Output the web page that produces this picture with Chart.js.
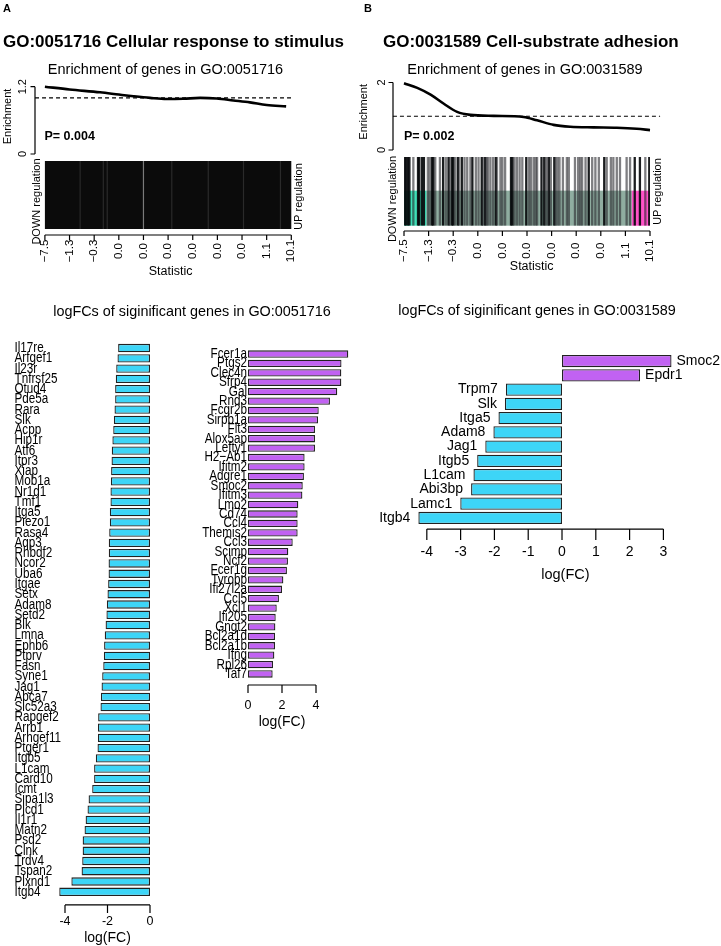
<!DOCTYPE html>
<html>
<head>
<meta charset="utf-8">
<script src="https://cdn.jsdelivr.net/npm/chart.js@4.4.1/dist/chart.umd.min.js"></script>
<style>
  body { margin: 0; background: #fff; }
  #page { position: relative; width: 721px; height: 946px; overflow: hidden; }
  #page canvas { position: absolute; left: 0; top: 0; }
</style>
</head>
<body>
<div id="page">
  <canvas id="enrichA" width="721" height="946"></canvas>
  <canvas id="barcodeA" width="721" height="946"></canvas>
  <canvas id="enrichB" width="721" height="946"></canvas>
  <canvas id="barcodeB" width="721" height="946"></canvas>
  <canvas id="downA" width="721" height="946"></canvas>
  <canvas id="upA" width="721" height="946"></canvas>
  <canvas id="barsB" width="721" height="946"></canvas>
</div>
<script>
// ---- data ----
// barcode axis labels (statistic quantiles)
const statLabels = ['\u22127.5', '\u22121.3', '\u22120.3', '0.0', '0.0', '0.0', '0.0', '0.0', '0.0', '1.1', '10.1'];

// enrichment curves (x = position along barcode, 0..10)
const enrichAX = [0, 1.0, 2.24, 3.0, 3.59, 4.27, 4.94, 5.62, 6.3, 6.97, 7.65, 8.32, 9.0, 9.79];
const enrichAY = [1.2, 1.15, 1.1, 1.06, 1.03, 1.0, 0.98, 0.985, 1.0, 0.99, 0.955, 0.92, 0.873, 0.85];
const enrichBX = [0, 0.54, 1.08, 1.62, 2.16, 2.7, 3.65, 4.86, 5.41, 6.08, 6.76, 7.7, 8.65, 9.46, 10];
const enrichBY = [1.98, 1.84, 1.64, 1.37, 1.13, 1.04, 1.01, 0.98, 0.88, 0.745, 0.69, 0.67, 0.66, 0.63, 0.59];

// barcode gene positions
const barcodeAGray = [1.43, 2.37, 2.53, 5.15, 6.63, 8.06, 9.56];
const barcodeALight = [4.0];
const barcodeBDark = [0.03, 0.09, 0.16, 0.22, 0.57, 0.62, 0.73, 0.81, 1.14, 1.19, 1.59, 1.81, 1.95, 2.0,
  2.19, 2.35, 2.78, 3.16, 3.30, 3.73, 4.35, 4.41, 4.97, 5.59, 5.70, 5.89, 6.11, 7.51, 8.14, 9.38, 9.59, 9.97];
const barcodeBGray = [0.38, 0.97, 1.05, 1.27, 1.46, 1.70, 1.86, 2.08, 2.24, 2.46, 2.57, 2.70, 2.92, 3.03,
  3.22, 3.35, 3.41, 3.51, 3.62, 3.78, 3.92, 4.0, 4.11, 4.49, 4.59, 4.70, 4.81, 5.08, 5.16, 5.27, 5.35,
  5.41, 5.76, 5.84, 5.97, 6.16, 6.24, 6.32, 6.46, 6.62, 6.70, 6.95, 7.08, 7.16, 7.24, 7.38, 7.65, 7.78,
  7.92, 8.24, 8.41, 8.51, 8.65, 8.78, 9.05, 9.19, 9.81];
const bandEdgesB = [0, 0.92, 9.26, 10];

// logFC bars
const downAGenes = ['Il17re', 'Arfgef1', 'Il23r', 'Tnfrsf25', 'Otud4', 'Pde5a', 'Rara', 'Slk', 'Acpp', 'Hip1r',
  'Atf6', 'Itpr3', 'Xiap', 'Mob1a', 'Nr1d1', 'Tmf1', 'Itga5', 'Piezo1', 'Rasa4', 'Aqp3', 'Rhbdf2', 'Ncor2',
  'Uba6', 'Itgae', 'Setx', 'Adam8', 'Setd2', 'Blk', 'Lmna', 'Ephb6', 'Ptprv', 'Fasn', 'Syne1', 'Jag1',
  'Abca7', 'Slc52a3', 'Rapgef2', 'Arrb1', 'Arhgef11', 'Ptger1', 'Itgb5', 'L1cam', 'Card10', 'Icmt',
  'Sipa1l3', 'Plcd1', 'Il1r1', 'Matn2', 'Psd2', 'Clnk', 'Trdv4', 'Tspan2', 'Plxnd1', 'Itgb4'];
const downAValues = [-1.50, -1.53, -1.59, -1.61, -1.64, -1.64, -1.67, -1.70, -1.73, -1.77,
  -1.80, -1.81, -1.83, -1.84, -1.86, -1.86, -1.89, -1.89, -1.92, -1.94, -1.94, -1.95,
  -1.95, -1.97, -2.00, -2.03, -2.05, -2.09, -2.13, -2.16, -2.17, -2.20, -2.25, -2.28,
  -2.31, -2.33, -2.44, -2.45, -2.45, -2.47, -2.55, -2.63, -2.63, -2.72,
  -2.89, -2.94, -3.03, -3.08, -3.17, -3.17, -3.19, -3.22, -3.70, -4.27];

const upAGenes = ['Fcer1a', 'Ptgs2', 'Clec4n', 'Sfrp4', 'Gal', 'Rnd3', 'Fcgr2b', 'Sirpb1a', 'Flt3', 'Alox5ap',
  'Lefty1', 'H2\u2212Ab1', 'Ifitm2', 'Adgre1', 'Smoc2', 'Ifitm3', 'Lmo2', 'Cd74', 'Ccl4', 'Themis2', 'Ccl3',
  'Scimp', 'Ncf2', 'Fcer1g', 'Tyrobp', 'Ifi27l2a', 'Ccl5', 'Xcl1', 'Ifi205', 'Gngt2', 'Bcl2a1d', 'Bcl2a1b',
  'Ifng', 'Rpl26', 'Taf7'];
const upAValues = [5.9, 5.5, 5.49, 5.49, 5.25, 4.82, 4.16, 4.12, 3.94, 3.94,
  3.94, 3.33, 3.33, 3.29, 3.22, 3.2, 2.96, 2.92, 2.92, 2.92, 2.63,
  2.37, 2.35, 2.29, 2.08, 2.0, 1.82, 1.69, 1.63, 1.61, 1.59, 1.59,
  1.55, 1.47, 1.45];

const bGenes = ['Smoc2', 'Epdr1', 'Trpm7', 'Slk', 'Itga5', 'Adam8', 'Jag1', 'Itgb5', 'L1cam', 'Abi3bp', 'Lamc1', 'Itgb4'];
const bValues = [3.24, 2.31, -1.66, -1.69, -1.88, -2.03, -2.27, -2.51, -2.62, -2.69, -3.01, -4.25];

const ticksDownA = [-4, -2, 0];
const ticksUpA = [0, 2, 4];
const ticksB = [-4, -3, -2, -1, 0, 1, 2, 3];

// ---- styling / helpers ----
const FONT = '"Liberation Sans", Arial, Helvetica, sans-serif';
const CYAN = '#3dd5f7';
const PURPLE = '#c162f2';
const W = 721, H = 946;

// padding so that the chart area sits at the given page box
function pad(l, t, r, b) { return { left: l, top: t, right: W - r, bottom: H - b }; }

function drawText(ctx, s, x, y, o) {
  ctx.save();
  ctx.translate(x, y);
  if (o.rot) ctx.rotate(o.rot);
  if (o.sx || o.sy) ctx.scale(o.sx || 1, o.sy || 1);
  ctx.font = o.font;
  ctx.fillStyle = o.color || '#000';
  ctx.textAlign = o.align || 'center';
  ctx.textBaseline = 'middle';
  ctx.fillText(s, 0, 0);
  ctx.restore();
}

// R-style axis: line from first to last tick, ticks pointing outward
const rAxis = {
  id: 'rAxis',
  afterDraw(chart, args, opts) {
    const ctx = chart.ctx, area = chart.chartArea;
    (opts.axes || []).forEach(a => {
      const sc = chart.scales[a.scale];
      const p = a.ticks.map(v => sc.getPixelForValue(v));
      ctx.save();
      ctx.strokeStyle = '#000';
      ctx.lineWidth = 1.2;
      ctx.beginPath();
      if (a.side === 'bottom') {
        const y0 = area.bottom + a.gap;
        ctx.moveTo(p[0], y0); ctx.lineTo(p[p.length - 1], y0);
        p.forEach(x => { ctx.moveTo(x, y0); ctx.lineTo(x, y0 + a.tickLen); });
        ctx.stroke();
        p.forEach((x, i) => drawText(ctx, a.labels[i], x, y0 + a.labelDist,
          { font: a.font, rot: a.rotate ? -Math.PI / 2 : 0 }));
        if (a.title) drawText(ctx, a.title, sc.getPixelForValue(a.titleAt), y0 + a.titleDist, { font: a.titleFont });
      } else {
        const x0 = area.left - a.gap;
        ctx.moveTo(x0, p[0]); ctx.lineTo(x0, p[p.length - 1]);
        p.forEach(y => { ctx.moveTo(x0, y); ctx.lineTo(x0 - a.tickLen, y); });
        ctx.stroke();
        p.forEach((y, i) => drawText(ctx, a.labels[i], x0 - a.labelDist, y, { font: a.font, rot: -Math.PI / 2 }));
        if (a.title) drawText(ctx, a.title, x0 - a.titleDist, sc.getPixelForValue(a.titleAt),
          { font: a.titleFont, rot: -Math.PI / 2 });
      }
      ctx.restore();
    });
  }
};

// coloured bands behind the barcode
const bands = {
  id: 'bands',
  beforeDatasetsDraw(chart, args, opts) {
    const ctx = chart.ctx, xs = chart.scales.x, ys = chart.scales.y;
    (opts.list || []).forEach(b => {
      const x0 = xs.getPixelForValue(b.from), x1 = xs.getPixelForValue(b.to);
      const y0 = ys.getPixelForValue(b.y1), y1 = ys.getPixelForValue(b.y0);
      ctx.fillStyle = b.color;
      ctx.fillRect(x0, y0, x1 - x0, y1 - y0);
    });
  }
};

// gene name labels of the bar charts
const geneLabels = {
  id: 'geneLabels',
  afterDatasetsDraw(chart, args, opts) {
    if (!opts.mode) return;
    const ctx = chart.ctx, xs = chart.scales.x, ys = chart.scales.y;
    const vals = chart.data.datasets[0].data;
    chart.data.labels.forEach((lab, i) => {
      const y = ys.getPixelForValue(i);
      let x, align;
      if (opts.mode === 'left') { x = opts.x; align = 'left'; }
      else if (opts.mode === 'right') { x = chart.chartArea.left - opts.gap; align = 'right'; }
      else {
        const px = xs.getPixelForValue(vals[i]);
        if (vals[i] < 0) { x = px - opts.gapNeg; align = 'right'; }
        else { x = px + opts.gapPos; align = 'left'; }
      }
      drawText(ctx, lab, x, y, { font: opts.font, align, sx: opts.sx, sy: opts.sy });
    });
  }
};

// free text of the figure (panel letters, titles)
const pageText = {
  id: 'pageText',
  afterDraw(chart, args, opts) {
    (opts.items || []).forEach(t => drawText(chart.ctx, t.text, t.x, t.y, t));
  }
};

Chart.register(rAxis, bands, geneLabels, pageText);
Chart.defaults.font.family = FONT;

function baseOptions(area, xr, yr) {
  return {
    responsive: false,
    animation: false,
    devicePixelRatio: 1,
    layout: { padding: area, autoPadding: false },
    events: [],
    scales: {
      x: { type: 'linear', display: false, min: xr[0], max: xr[1] },
      y: { type: 'linear', display: false, min: yr[0], max: yr[1] }
    },
    plugins: { legend: { display: false }, tooltip: { enabled: false } }
  };
}

// ---- enrichment curves ----
function enrichChart(id, xsArr, ysArr, area, ymax, dashFrom, dashTo, yAxis, texts) {
  const opt = baseOptions(area, [0, 10], [0, ymax]);
  opt.plugins.rAxis = { axes: [yAxis] };
  opt.plugins.pageText = { items: texts || [] };
  new Chart(document.getElementById(id), {
    type: 'line',
    data: {
      datasets: [
        {
          data: xsArr.map((x, i) => ({ x, y: ysArr[i] })),
          borderColor: '#000', borderWidth: 2.6, pointRadius: 0,
          cubicInterpolationMode: 'monotone', clip: false
        },
        {
          data: [{ x: dashFrom, y: 1 }, { x: dashTo, y: 1 }],
          borderColor: '#000', borderWidth: 1.1, borderDash: [4, 3], pointRadius: 0, clip: false
        }
      ]
    },
    options: opt
  });
}

const T = (text, x, y, font, extra) => Object.assign({ text, x, y, font }, extra || {});
const pageItems = [
  T('A', 3, 8.5, 'bold 11px ' + FONT, { align: 'left' }),
  T('B', 364, 8.5, 'bold 11px ' + FONT, { align: 'left' }),
  T('GO:0051716 Cellular response to stimulus', 3, 42, 'bold 17px ' + FONT, { align: 'left' }),
  T('GO:0031589 Cell-substrate adhesion', 383, 42, 'bold 17px ' + FONT, { align: 'left' }),
  T('Enrichment of genes in GO:0051716', 165.5, 70, '14.5px ' + FONT),
  T('Enrichment of genes in GO:0031589', 525, 70, '14.5px ' + FONT),
  T('P= 0.004', 44.5, 137, 'bold 12.5px ' + FONT, { align: 'left' }),
  T('P= 0.002', 404, 137, 'bold 12.5px ' + FONT, { align: 'left' }),
  T('DOWN regulation', 37, 201.5, '11px ' + FONT, { rot: -Math.PI / 2 }),
  T('UP regulation', 298.5, 196.5, '11px ' + FONT, { rot: -Math.PI / 2 }),
  T('DOWN regulation', 393, 199, '11px ' + FONT, { rot: -Math.PI / 2 }),
  T('UP regulation', 658, 191.5, '11px ' + FONT, { rot: -Math.PI / 2 }),
  T('logFCs of siginificant genes in GO:0051716', 192, 312, '14.4px ' + FONT),
  T('logFCs of siginificant genes in GO:0031589', 537, 311, '14.4px ' + FONT)
];

enrichChart('enrichA', enrichAX, enrichAY, pad(44.9, 86.7, 291.3, 154), 1.2, -0.4, 10.07,
  { scale: 'y', side: 'left', ticks: [0, 1.2], labels: ['0', '1.2'], gap: 9.9, tickLen: 4.5, labelDist: 12,
    font: '11px ' + FONT, title: 'Enrichment', titleAt: 0.67, titleDist: 27, titleFont: '11px ' + FONT },
  pageItems);
enrichChart('enrichB', enrichBX, enrichBY, pad(404, 82.5, 650, 150), 2, -0.45, 10.41,
  { scale: 'y', side: 'left', ticks: [0, 2], labels: ['0', '2'], gap: 11, tickLen: 4.5, labelDist: 11.3,
    font: '11px ' + FONT, title: 'Enrichment', titleAt: 1.13, titleDist: 29, titleFont: '11px ' + FONT });

// ---- barcodes ----
function barcodeChart(id, top, bottom, area, lineSets, bandList, xAxis) {
  const opt = baseOptions(area, [0, 10], [0, 1]);
  opt.plugins.bands = { list: bandList };
  opt.plugins.rAxis = { axes: [xAxis] };
  const half = (bottom - top) / 2;
  new Chart(document.getElementById(id), {
    type: 'scatter',
    data: {
      datasets: lineSets.map(s => ({
        data: s.xs.map(x => ({ x, y: 0.5 })),
        pointStyle: 'line', rotation: 90, pointRadius: half,
        borderColor: s.color, pointBorderColor: s.color, pointBorderWidth: s.width
      }))
    },
    options: opt
  });
}

const tickIdx = statLabels.map((_, i) => i);

barcodeChart('barcodeA', 161, 229, pad(44.9, 161, 291.3, 229),
  [{ xs: barcodeAGray, color: '#2a2a2a', width: 1.2 }, { xs: barcodeALight, color: '#7a7a7a', width: 1.2 }],
  [{ from: 0, to: 10, y0: 0, y1: 1, color: '#0b0b0b' }],
  { scale: 'x', side: 'bottom', ticks: tickIdx, labels: statLabels, gap: 6, tickLen: 5, labelDist: 16,
    rotate: true, font: '11.5px ' + FONT, title: 'Statistic', titleAt: 5.1, titleDist: 36.7, titleFont: '12.5px ' + FONT });

barcodeChart('barcodeB', 157, 225.7, pad(404, 157, 650, 225.7),
  [{ xs: barcodeBGray, color: 'rgba(40,40,45,0.6)', width: 2.3 }, { xs: barcodeBDark, color: 'rgba(8,10,12,0.92)', width: 2.3 }],
  [
    { from: bandEdgesB[0], to: bandEdgesB[1], y0: 0, y1: 0.51, color: '#3fe0b8' },
    { from: bandEdgesB[1], to: bandEdgesB[2], y0: 0, y1: 0.51, color: '#8fada0' },
    { from: bandEdgesB[2], to: bandEdgesB[3], y0: 0, y1: 0.51, color: '#ff52c8' }
  ],
  { scale: 'x', side: 'bottom', ticks: tickIdx, labels: statLabels, gap: 5.3, tickLen: 5, labelDist: 19.7,
    rotate: true, font: '11.5px ' + FONT, title: 'Statistic', titleAt: 5.19, titleDist: 35.7, titleFont: '12.5px ' + FONT });

// ---- logFC bar charts ----
function barChart(id, genes, values, area, xr, barPct, colors, labelOpts, xAxis) {
  const opt = baseOptions(area, xr, [0, 1]);
  opt.indexAxis = 'y';
  opt.scales.y = { type: 'category', display: false, offset: true };
  opt.plugins.geneLabels = labelOpts;
  opt.plugins.rAxis = { axes: [xAxis] };
  new Chart(document.getElementById(id), {
    type: 'bar',
    data: {
      labels: genes,
      datasets: [{
        data: values,
        backgroundColor: colors,
        borderColor: '#222', borderWidth: 1.3, borderSkipped: false,
        categoryPercentage: 1, barPercentage: barPct
      }]
    },
    options: opt
  });
}

barChart('downA', downAGenes, downAValues, pad(56.5, 342.9, 150, 896.9), [-4.4, 0], 0.81, CYAN,
  { mode: 'left', x: 14.5, font: '13px ' + FONT, sx: 0.9, sy: 1.12 },
  { scale: 'x', side: 'bottom', ticks: ticksDownA, labels: ticksDownA.map(String), gap: 8, tickLen: 8, labelDist: 17,
    font: '12.5px ' + FONT, title: 'log(FC)', titleAt: -2, titleDist: 33, titleFont: '14px ' + FONT });

barChart('upA', upAGenes, upAValues, pad(248, 349.3, 353.4, 678.7), [0, 6.2], 0.78, PURPLE,
  { mode: 'right', gap: 1, font: '13px ' + FONT, sx: 0.9, sy: 1.1 },
  { scale: 'x', side: 'bottom', ticks: ticksUpA, labels: ticksUpA.map(String), gap: 6.3, tickLen: 8, labelDist: 20.7,
    font: '12.5px ' + FONT, title: 'log(FC)', titleAt: 2, titleDist: 37.3, titleFont: '14px ' + FONT });

barChart('barsB', bGenes, bValues, pad(413.3, 353.9, 680.3, 525.1), [-4.4, 3.5], 0.86,
  bValues.map(v => v < 0 ? CYAN : PURPLE),
  { mode: 'bar', gapNeg: 8, gapPos: 5, font: '14px ' + FONT },
  { scale: 'x', side: 'bottom', ticks: ticksB, labels: ticksB.map(String), gap: 4, tickLen: 11, labelDist: 23,
    font: '14px ' + FONT, title: 'log(FC)', titleAt: 0.1, titleDist: 46, titleFont: '14.5px ' + FONT });
</script>
</body>
</html>
